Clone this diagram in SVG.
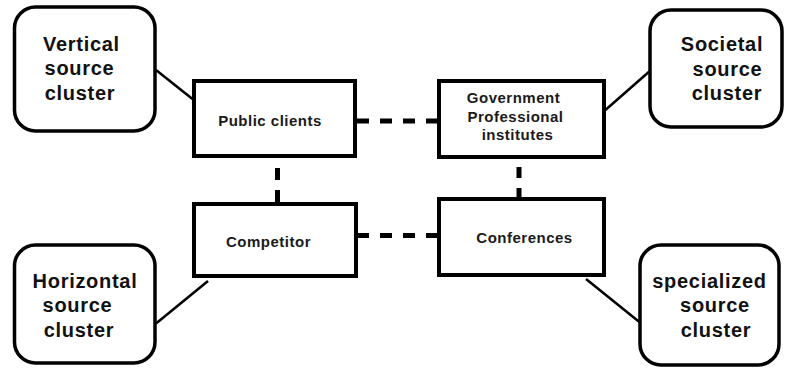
<svg xmlns="http://www.w3.org/2000/svg" width="785" height="370" viewBox="0 0 785 370">
<style>
.cl{fill:#fff;stroke:#000;stroke-width:3.5}
.bx{fill:#fff;stroke:#000;stroke-width:4}
.big{font-family:"Liberation Sans",Arial,sans-serif;font-weight:bold;font-size:20px;letter-spacing:0.7px;fill:#111;text-anchor:middle}
.sm{font-family:"Liberation Sans",Arial,sans-serif;font-weight:bold;font-size:15px;letter-spacing:0.5px;fill:#1a1a1a;text-anchor:middle}
.ln{stroke:#000;stroke-width:2.5;fill:none}
.ds{stroke:#000;stroke-width:5;fill:none}
</style>
<rect width="785" height="370" fill="#fff"/>
<g id="connectors">
<line class="ln" x1="156" y1="70" x2="195" y2="101"/>
<line class="ln" x1="602" y1="113" x2="651" y2="70"/>
<line class="ln" x1="156" y1="323.5" x2="208" y2="281"/>
<line class="ln" x1="586" y1="279" x2="640" y2="322.5"/>
<line class="ds" x1="357" y1="121" x2="438" y2="121" stroke-dasharray="12 11"/>
<line class="ds" x1="357" y1="235.5" x2="438" y2="235.5" stroke-dasharray="12 11"/>
<line class="ds" x1="277.5" y1="202" x2="277.5" y2="157" stroke-dasharray="12 10"/>
<line class="ds" x1="519" y1="199" x2="519" y2="157" stroke-dasharray="11 10"/>
</g>
<g id="vertical">
<rect class="cl" x="14.5" y="7" width="140.5" height="124" rx="21"/>
<text class="big" x="81.5" y="51">Vertical</text>
<text class="big" x="79.5" y="75">source</text>
<text class="big" x="80" y="99.5">cluster</text>
</g>
<g id="societal">
<rect class="cl" x="650" y="10" width="132" height="117" rx="21"/>
<text class="big" x="722" y="50.5">Societal</text>
<text class="big" x="727.5" y="76">source</text>
<text class="big" x="727" y="100">cluster</text>
</g>
<g id="horizontal">
<rect class="cl" x="14.5" y="245" width="140.5" height="118" rx="21"/>
<text class="big" x="85" y="288">Horizontal</text>
<text class="big" x="77.5" y="312">source</text>
<text class="big" x="79" y="337">cluster</text>
</g>
<g id="specialized">
<rect class="cl" x="640" y="245" width="139" height="120" rx="21"/>
<text class="big" x="709.5" y="288">specialized</text>
<text class="big" x="715" y="312">source</text>
<text class="big" x="716" y="337">cluster</text>
</g>
<g id="public-clients">
<rect class="bx" x="194" y="81" width="161" height="75"/>
<text class="sm" x="270" y="126">Public clients</text>
</g>
<g id="government">
<rect class="bx" x="439" y="81" width="165" height="76"/>
<text class="sm" x="513.5" y="103">Government</text>
<text class="sm" x="515.5" y="122">Professional</text>
<text class="sm" x="517.5" y="140">institutes</text>
</g>
<g id="competitor">
<rect class="bx" x="194" y="204" width="162" height="72"/>
<text class="sm" x="268.5" y="247">Competitor</text>
</g>
<g id="conferences">
<rect class="bx" x="439" y="199" width="165" height="76"/>
<text class="sm" x="524.5" y="243">Conferences</text>
</g>
</svg>
